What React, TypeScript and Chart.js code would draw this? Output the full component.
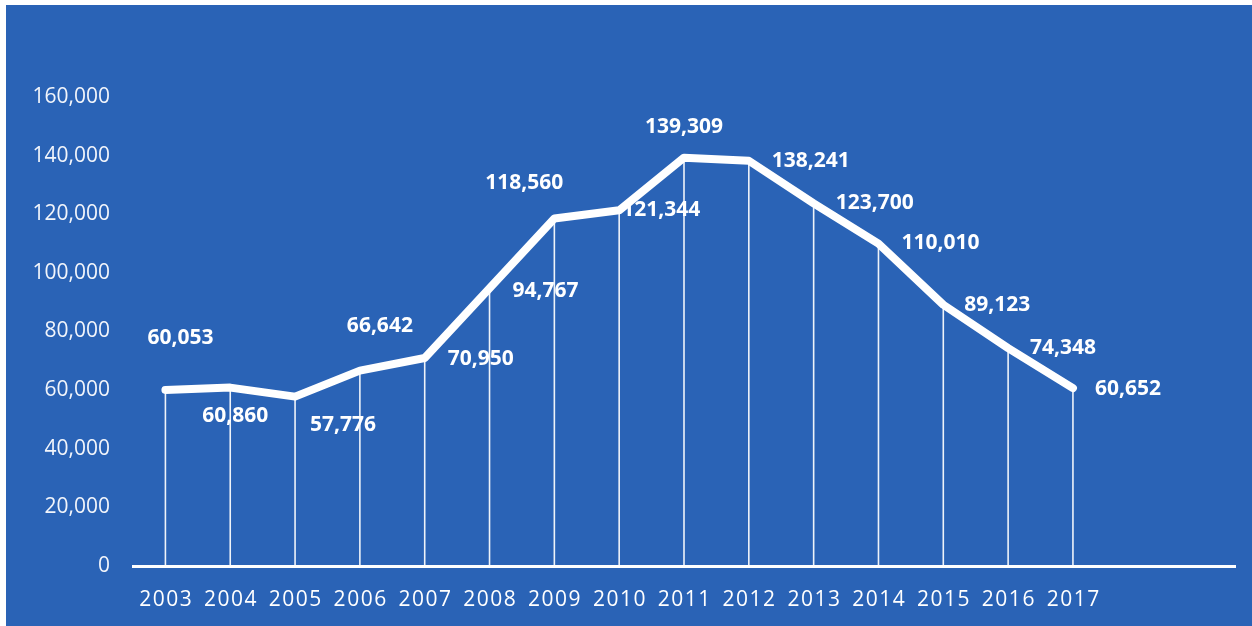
import React, { useEffect, useRef } from "react";
import { Chart, registerables } from "chart.js";

Chart.register(...registerables);

const years = ["2003", "2004", "2005", "2006", "2007", "2008", "2009", "2010", "2011", "2012", "2013", "2014", "2015", "2016", "2017", "", ""];
const values = [60053, 60860, 57776, 66642, 70950, 94767, 118560, 121344, 139309, 138241, 123700, 110010, 89123, 74348, 60652];
const yTicks = [0, 20000, 40000, 60000, 80000, 100000, 120000, 140000, 160000];

const BLUE = "#2a63b6";
const FONT = "'Open Sans', 'DejaVu Sans', sans-serif";

// label placement (style), offsets in px from each point
const labelOffsets: [number, number][] = [
  [15, -52], [5, 28], [48, 28], [20, -45], [56, 1], [56, 3], [-30, -35], [42, 0],
  [0, -31], [62, 0], [61, 0], [62, -1], [54, 0], [55, 0], [55, 1],
];

const fmt = (v: number) => v.toLocaleString("en-US");

export default function App() {
  const ref = useRef<HTMLCanvasElement | null>(null);
  useEffect(() => {
    document.body.style.margin = "0";
    const canvas = ref.current!;
    const bgPlugin = {
      id: "bg",
      beforeDraw(chart: any) {
        const { ctx, width, height } = chart;
        ctx.save();
        ctx.fillStyle = "#ffffff";
        ctx.fillRect(0, 0, width, height);
        ctx.fillStyle = BLUE;
        ctx.fillRect(6, 5, width - 6, height - 5);
        ctx.restore();
      },
    };
    const xLabelPlugin = {
      id: "xlabels",
      afterDraw(chart: any) {
        const { ctx } = chart;
        const xs = chart.scales.x;
        const y0 = chart.scales.y.getPixelForValue(0);
        ctx.save();
        ctx.fillStyle = "#ffffff";
        ctx.font = `21px ${FONT}`;
        (ctx as any).letterSpacing = "1.5px";
        ctx.textAlign = "center";
        ctx.textBaseline = "middle";
        years.forEach((lab, i) => {
          if (!lab) return;
          ctx.fillText(lab, xs.getPixelForTick(i) + 0.75, y0 + 34);
        });
        ctx.restore();
      },
    };
    const dropPlugin = {
      id: "drops",
      beforeDatasetsDraw(chart: any) {
        const { ctx } = chart;
        const meta = chart.getDatasetMeta(0);
        const y0 = chart.scales.y.getPixelForValue(0);
        ctx.save();
        ctx.strokeStyle = "rgba(255,255,255,0.92)";
        ctx.lineWidth = 1.6;
        meta.data.forEach((pt: any) => {
          ctx.beginPath();
          ctx.moveTo(pt.x, pt.y);
          ctx.lineTo(pt.x, y0);
          ctx.stroke();
        });
        ctx.restore();
      },
    };
    const labelPlugin = {
      id: "labels",
      afterDatasetsDraw(chart: any) {
        const { ctx } = chart;
        const meta = chart.getDatasetMeta(0);
        ctx.save();
        ctx.fillStyle = "#ffffff";
        ctx.font = `bold 21px ${FONT}`;
        ctx.textAlign = "center";
        ctx.textBaseline = "middle";
        meta.data.forEach((pt: any, i: number) => {
          const [dx, dy] = labelOffsets[i] || [0, -30];
          ctx.fillText(fmt(values[i]), pt.x + dx, pt.y + dy);
        });
        ctx.restore();
      },
    };
    const chart = new Chart(canvas, {
      type: "line",
      data: {
        labels: years,
        datasets: [
          {
            data: values,
            borderColor: "#ffffff",
            borderWidth: 8,
            borderCapStyle: "round",
            borderJoinStyle: "round",
            pointRadius: 0,
            tension: 0,
            fill: false,
          },
        ],
      },
      options: {
        animation: false,
        responsive: false,
        maintainAspectRatio: false,
        events: [],
        layout: { padding: { top: 97, right: 17, left: 0, bottom: 0 } },
        plugins: { legend: { display: false }, tooltip: { enabled: false } },
        scales: {
          x: {
            offset: true,
            grid: { display: false, drawTicks: false },
            border: { display: true, color: "#ffffff", width: 3 },
            ticks: {
              color: "rgba(0,0,0,0)",
              font: { family: FONT, size: 21 },
              padding: 22,
              maxRotation: 0,
              autoSkip: false,
            },
            afterFit(s: any) {
              s.height = 60;
            },
          },
          y: {
            min: 0,
            max: 160000,
            afterBuildTicks(s: any) {
              s.ticks = yTicks.map((v) => ({ value: v }));
            },
            grid: { display: false, drawTicks: false },
            border: { display: false },
            ticks: {
              color: "#f2f5fb",
              font: { family: FONT, size: 21 },
              padding: 23,
              callback: (v: any) => fmt(Number(v)),
            },
            afterFit(s: any) {
              s.width = 133;
            },
          },
        },
      },
      plugins: [bgPlugin, dropPlugin, labelPlugin, xLabelPlugin],
    } as any);
    return () => chart.destroy();
  }, []);
  return (
    <div style={{ width: 1252, height: 626 }}>
      <canvas ref={ref} width={1252} height={626} style={{ display: "block" }} />
    </div>
  );
}
